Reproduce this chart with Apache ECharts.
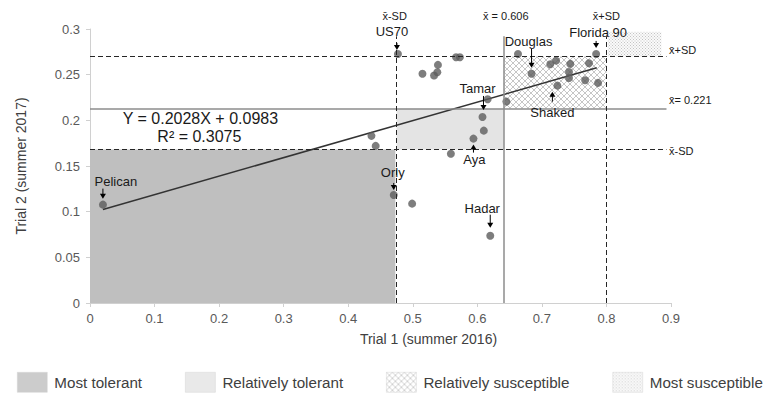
<!DOCTYPE html>
<html><head><meta charset="utf-8">
<script src="https://cdn.jsdelivr.net/npm/echarts@6/dist/echarts.min.js"></script>
<style>html,body{margin:0;padding:0;background:#fff}#c{width:763px;height:394px}</style>
</head><body><div id="c"></div>
<script>
// ---- data ----
const trial1 = [0.020, 0.436, 0.4425, 0.4705, 0.477, 0.499, 0.515, 0.533, 0.538, 0.539, 0.559, 0.567, 0.573, 0.594, 0.608, 0.610, 0.616, 0.620, 0.645, 0.663, 0.684, 0.713, 0.722, 0.724, 0.742, 0.742, 0.744, 0.767, 0.773, 0.784, 0.787];
const trial2 = [0.1077, 0.183, 0.172, 0.1183, 0.2727, 0.1088, 0.251, 0.249, 0.2527, 0.2607, 0.1635, 0.269, 0.269, 0.180, 0.2037, 0.1887, 0.223, 0.0737, 0.2205, 0.2727, 0.251, 0.2614, 0.2654, 0.238, 0.253, 0.2464, 0.2618, 0.2439, 0.2625, 0.2727, 0.241];
const cultivarNames = ['Pelican','','','Orly','US70','','','','','','','','','Aya','Tamar','','','Hadar','','','Douglas','','','Shaked','','','','','','Florida 90',''];
const fitX = [0.02, 0.785];
const fitY = [0.1024, 0.2575];
const xStats = [0.475, 0.641, 0.800];          // mean-SD, mean, mean+SD (trial 1)
const yStats = [0.168, 0.213, 0.270];          // mean-SD, mean, mean+SD (trial 2)
const xStatLabels = ['x\u0304-SD', 'x\u0304 = 0.606', 'x\u0304+SD'];
const yStatLabels = ['x\u0304-SD', 'x\u0304= 0.221', 'x\u0304+SD'];
const groupNames = ['Most tolerant', 'Relatively tolerant', 'Relatively susceptible', 'Most susceptible'];
const groupX = [[0, 0.473], [0.475, 0.641], [0.641, 0.800], [0.802, 0.885]];
const groupY = [[0, 0.168], [0.168, 0.213], [0.213, 0.270], [0.270, 0.297]];
const equationLines = ['Y = 0.2028X + 0.0983', 'R\u00b2 = 0.3075'];
const xAxisRange = [0, 0.9, 0.1];
const yAxisRange = [0, 0.3, 0.05];
const statLineEnds = [0.893, 0.292];

// ---- layout / style (not data) ----
const FONT = '"Liberation Sans", Arial, sans-serif';
function makePattern(kind) {
  const c = document.createElement('canvas');
  if (kind === 'cross') {
    c.width = 6; c.height = 6;
    const g = c.getContext('2d');
    g.fillStyle = '#fff'; g.fillRect(0, 0, 6, 6);
    g.strokeStyle = '#b8b8b8'; g.lineWidth = 0.8;
    g.beginPath(); g.moveTo(0, 0); g.lineTo(6, 6); g.moveTo(6, 0); g.lineTo(0, 6); g.stroke();
  } else {
    c.width = 3; c.height = 3;
    const g = c.getContext('2d');
    g.fillStyle = '#fafafa'; g.fillRect(0, 0, 3, 3);
    g.fillStyle = '#c4c4c4'; g.fillRect(0, 0, 1, 1); g.fillRect(1.5, 1.5, 1, 1);
  }
  return { image: c, repeat: 'repeat', imageWidth: c.width, imageHeight: c.height };
}
const fills = ['#bfbfbf', '#e4e4e4', makePattern('cross'), makePattern('dots')];

// annotation offsets relative to the annotated point (pixels)
const annot = {
  'Pelican':    { t: [13, -23], a: [0, -16, -6] },
  'Orly':       { t: [-1, -22], a: [0, -12, -5] },
  'US70':       { t: [-6, -22], a: [-1, -11, -4] },
  'Douglas':    { t: [-3, -32], a: [0, -25, -6] },
  'Florida 90': { t: [2, -21], a: [0, -13, -6] },
  'Tamar':      { t: [-5, -28], a: [1, -21, -7] },
  'Hadar':      { t: [-8, -27], a: [0, -21, -8] },
  'Shaked':     { t: [-5, 27], a: [-5, 16, 6] },
  'Aya':        { t: [1, 21], a: [0, 14, 6] }
};

const chart = echarts.init(document.getElementById('c'), null, { renderer: 'svg' });

const series = [];
groupNames.forEach((n, i) => {
  series.push({
    name: n, type: 'scatter', data: [], z: 1,
    itemStyle: { color: fills[i] },
    markArea: {
      silent: true,
      itemStyle: { color: fills[i], borderWidth: 0 },
      data: [[{ coord: [groupX[i][0], groupY[i][0]] }, { coord: [groupX[i][1], groupY[i][1]] }]]
    }
  });
});
const statLines = [];
yStats.forEach((v, i) => {
  const solid = i === 1;
  statLines.push([
    { coord: [xAxisRange[0], v], lineStyle: solid ? { color: '#8c8c8c', width: 1.5, type: 'solid' } : { color: '#262626', width: 1, type: [5, 3] } },
    { coord: [statLineEnds[0], v] }
  ]);
});
xStats.forEach((v, i) => {
  const solid = i === 1;
  statLines.push([
    { coord: [v, yAxisRange[0]], lineStyle: solid ? { color: '#8c8c8c', width: 1.5, type: 'solid' } : { color: '#262626', width: 1, type: [5, 3] } },
    { coord: [v, statLineEnds[1]] }
  ]);
});
series.push({
  name: 'stats', type: 'line', data: [], z: 2,
  markLine: { silent: true, symbol: 'none', label: { show: false }, animation: false, data: statLines }
});
series.push({
  name: 'fit', type: 'line', z: 3, symbol: 'none',
  data: fitX.map((x, i) => [x, fitY[i]]),
  lineStyle: { color: '#333', width: 1.5 }
});
series.push({
  name: 'cultivars', type: 'scatter', z: 4, symbolSize: 8,
  itemStyle: { color: '#5c5c5c' },
  data: trial1.map((x, i) => ({ value: [x, trial2[i]], name: cultivarNames[i] }))
});

chart.setOption({
  animation: false,
  backgroundColor: '#fff',
  textStyle: { fontFamily: FONT },
  grid: { left: 90, right: 92, top: 29, bottom: 91 },
  legend: {
    data: groupNames, icon: 'rect', left: 17, top: 372, width: 760,
    itemWidth: 30, itemHeight: 20, itemGap: 43, padding: 0,
    itemStyle: { borderColor: '#d4d4d4', borderWidth: 0.6 },
    textStyle: { fontSize: 15.2, color: '#404040', fontFamily: FONT, padding: [0, 0, 0, 2] },
    selectedMode: false
  },
  xAxis: {
    type: 'value', min: xAxisRange[0], max: xAxisRange[1], interval: xAxisRange[2],
    name: 'Trial 1 (summer 2016)', nameLocation: 'middle', nameGap: 29,
    nameTextStyle: { fontSize: 14, color: '#404040', padding: [0, 0, 0, 96] },
    axisLine: { lineStyle: { color: '#d0d0d0' } },
    axisTick: { show: true, length: 4, lineStyle: { color: '#d0d0d0' } },
    axisLabel: { fontSize: 13, color: '#595959', margin: 9 },
    splitLine: { show: false }
  },
  yAxis: {
    type: 'value', min: yAxisRange[0], max: yAxisRange[1], interval: yAxisRange[2],
    name: 'Trial 2 (summer 2017)', nameLocation: 'middle', nameGap: 62,
    nameTextStyle: { fontSize: 14, color: '#404040' },
    axisLine: { show: true, lineStyle: { color: '#d0d0d0' } },
    axisTick: { show: true, length: 4, lineStyle: { color: '#d0d0d0' } },
    axisLabel: { fontSize: 13, color: '#595959', margin: 10 },
    splitLine: { show: false }
  },
  series: series
});

// ---- annotations positioned through the chart's scales ----
const toPx = (x, y) => chart.convertToPixel({ xAxisIndex: 0, yAxisIndex: 0 }, [x, y]);
const g = [];
const txt = (text, x, y, size, align) => ({
  type: 'text', z: 20, silent: true,
  style: { text: text, x: x, y: y, fill: '#1a1a1a', font: size + 'px ' + FONT, align: align || 'center', verticalAlign: 'middle' }
});
cultivarNames.forEach((n, i) => {
  if (!n || !annot[n]) return;
  const p = toPx(trial1[i], trial2[i]);
  const A = annot[n];
  g.push(txt(n, p[0] + A.t[0], p[1] + A.t[1], 13));
  const ax = p[0] + A.a[0], y0 = p[1] + A.a[1], tip = p[1] + A.a[2];
  const dir = tip > y0 ? 1 : -1;
  g.push({ type: 'line', z: 20, silent: true, shape: { x1: ax, y1: y0, x2: ax, y2: tip - dir * 4 }, style: { stroke: '#000', lineWidth: 1 } });
  g.push({ type: 'polygon', z: 20, silent: true, shape: { points: [[ax - 3, tip - dir * 5], [ax + 3, tip - dir * 5], [ax, tip]] }, style: { fill: '#000' } });
});
const xOff = [-2, 2, 0];
xStats.forEach((v, i) => {
  const p = toPx(v, yAxisRange[1]);
  g.push(txt(xStatLabels[i], p[0] + xOff[i], p[1] - 13, 11));
});
const yOff = [1, -8, -6];
yStats.forEach((v, i) => {
  const p = toPx(xAxisRange[1], v);
  g.push(txt(yStatLabels[i], p[0] - 2, p[1] + yOff[i], 11, 'left'));
});
const eqP = toPx(0.171, 0.2);
g.push(txt(equationLines[0], eqP[0], eqP[1] - 2, 16));
g.push(txt(equationLines[1], eqP[0] - 1, eqP[1] + 16, 16));
chart.setOption({ graphic: g });
</script></body></html>
